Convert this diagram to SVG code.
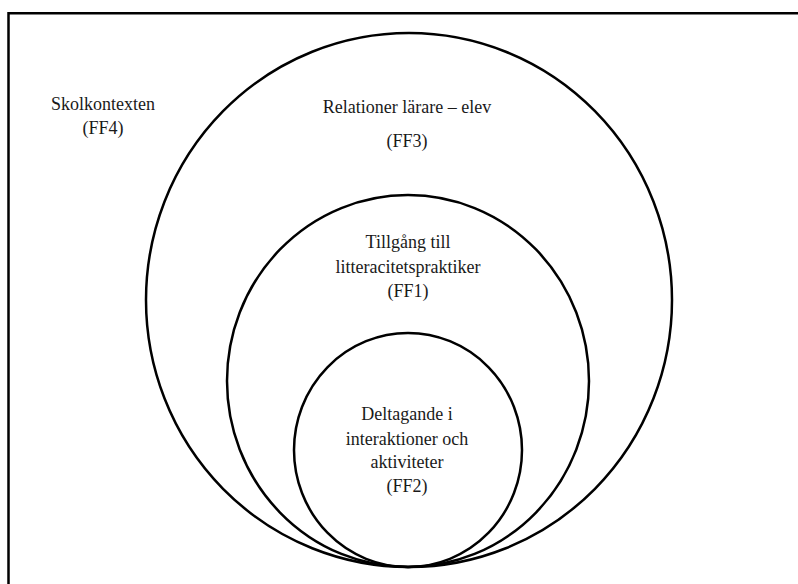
<svg xmlns="http://www.w3.org/2000/svg" width="798" height="584" viewBox="0 0 798 584">
<style>
.ring{fill:none;stroke:#000;stroke-width:2.5}
.lbl{font-size:18px;fill:#1a1a1a;text-anchor:middle}
</style>
<rect width="798" height="584" fill="#fff"/>
<g id="frame">
<path d="M8.5,590 V13.2 H805" fill="none" stroke="#000" stroke-width="2.5"/>
</g>
<g font-family="'Liberation Serif', 'DejaVu Serif', serif">
<g id="ff4">
<text class="lbl" x="103" y="110">Skolkontexten</text>
<text class="lbl" x="103" y="134">(FF4)</text>
</g>
<g id="ff3">
<ellipse class="ring" cx="409" cy="300" rx="263" ry="267"/>
<text class="lbl" x="407" y="113">Relationer lärare – elev</text>
<text class="lbl" x="407" y="147">(FF3)</text>
</g>
<g id="ff1">
<ellipse class="ring" cx="408" cy="381" rx="181" ry="186"/>
<text class="lbl" x="408" y="248">Tillgång till</text>
<text class="lbl" x="408" y="273">litteracitetspraktiker</text>
<text class="lbl" x="408" y="297">(FF1)</text>
</g>
<g id="ff2">
<ellipse class="ring" cx="408" cy="450" rx="114" ry="117"/>
<text class="lbl" x="407" y="420">Deltagande i</text>
<text class="lbl" x="407" y="445">interaktioner och</text>
<text class="lbl" x="407" y="468">aktiviteter</text>
<text class="lbl" x="407" y="492">(FF2)</text>
</g>
</g>
<g id="connectors"/>
</svg>
